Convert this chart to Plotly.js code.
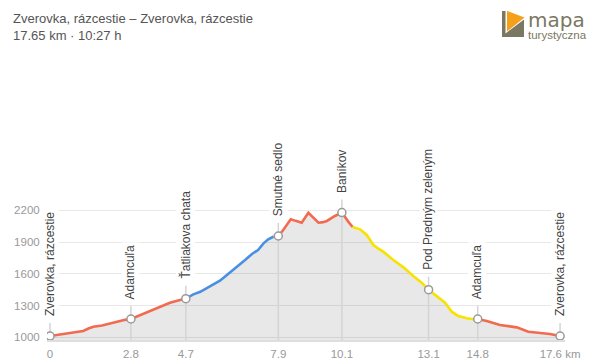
<!DOCTYPE html>
<html>
<head>
<meta charset="utf-8">
<script src="https://cdn.plot.ly/plotly-3.0.1.min.js"></script>
<style>html,body{margin:0;padding:0;background:#fff;}#chart{width:600px;height:362px;}</style>
</head>
<body>
<div id="chart"></div>
<script>
// ---- data ----
const profileKm = [0,0.3,0.58,0.9,1.15,1.35,1.5,1.8,2.08,2.42,2.6,2.8,3.0,3.23,3.45,3.69,3.9,4.15,4.5,4.7,
  4.96,5.2,5.42,5.65,5.88,6.1,6.34,6.55,6.75,7.0,7.2,7.38,7.55,7.73,7.9,8.07,8.2,8.33,8.5,8.59,8.71,8.94,9.1,9.29,9.45,9.58,9.86,10.1,
  10.32,10.47,10.73,10.96,11.19,11.35,11.53,11.88,12.23,12.57,12.86,13.1,13.38,13.67,13.9,14.13,14.42,14.65,14.8,
  15.11,15.57,16.15,16.55,16.96,17.3,17.65];
const profileElev = [1012,1025,1038,1045,1060,1085,1100,1112,1132,1157,1165,1173,1195,1220,1245,1274,1300,1327,1352,1365,
  1406,1430,1463,1495,1535,1585,1636,1685,1730,1790,1825,1885,1925,1950,1957,2014,2070,2115,2100,2093,2083,2177,2130,2083,2088,2099,2146,2178,
  2093,2042,2020,1967,1872,1840,1809,1730,1661,1579,1516,1450,1390,1327,1242,1201,1180,1170,1173,
  1154,1116,1094,1053,1043,1031,1012];
const segStart = [0, 4.7, 7.73, 10.47, 14.8];
const segEnd   = [4.7, 7.73, 10.47, 14.8, 17.65];
const segColor = ['#f26a4f', '#4a90e2', '#f26a4f', '#f7e200', '#f26a4f'];
const wpKm   = [0, 2.8, 4.7, 7.9, 10.1, 13.1, 14.8, 17.65];
const wpElev = [1012, 1173, 1365, 1957, 2178, 1450, 1173, 1012];
const wpName = ['Zverovka, rázcestie','Adamcuľa','Ťatliakova chata','Smutné sedlo','Baníkov','Pod Predným zeleným','Adamcuľa','Zverovka, rázcestie'];
const yTicks = [1000, 1300, 1600, 1900, 2200];
const titleLine1 = 'Zverovka, rázcestie – Zverovka, rázcestie';
const titleLine2 = '17.65 km · 10:27 h';
const logoLine1 = 'mapa';
const logoLine2 = 'turystyczna';

// ---- layout geometry ----
const W = 600, H = 362;
const M = {l: 47, r: 35, t: 120, b: 22};
const plotW = W - M.l - M.r, plotH = H - M.t - M.b;
const xRange = [-0.104, 17.82];
const yRange = [974.5, 3053];
const dyPerPx = (yRange[1] - yRange[0]) / plotH;
const px2x = px => (px - M.l) / plotW;
const py2y = py => (H - M.b - py) / plotH;

const traces = [];
traces.push({x: profileKm, y: profileElev, type: 'scatter', mode: 'lines', fill: 'tozeroy',
  fillcolor: 'rgba(0,0,0,0.09)', line: {width: 0}, hoverinfo: 'skip', showlegend: false});

const vx = [], vy = [];
wpKm.forEach((k, i) => { vx.push(k, k, null); vy.push(yRange[0], wpElev[i] + 13 * dyPerPx, null); });
traces.push({x: vx, y: vy, type: 'scatter', mode: 'lines', line: {color: '#d4d4d4', width: 1.5},
  hoverinfo: 'skip', showlegend: false});

segStart.forEach((s, i) => {
  const xs = [], ys = [];
  profileKm.forEach((k, j) => { if (k >= s - 1e-9 && k <= segEnd[i] + 1e-9) { xs.push(k); ys.push(profileElev[j]); } });
  traces.push({x: xs, y: ys, type: 'scatter', mode: 'lines', line: {color: segColor[i], width: 2.6},
    hoverinfo: 'skip', showlegend: false});
});

traces.push({x: wpKm, y: wpElev, type: 'scatter', mode: 'markers',
  marker: {size: 8, color: '#ffffff', line: {color: '#9a9a9a', width: 1.5}}, hoverinfo: 'skip', showlegend: false});

const annotations = wpKm.map((k, i) => ({
  x: k, y: wpElev[i], xref: 'x', yref: 'y', text: wpName[i], showarrow: false,
  textangle: -90, xanchor: 'center', yanchor: 'bottom', yshift: 18,
  bgcolor: '#ffffff', borderpad: 2, borderwidth: 0,
  font: {family: 'Liberation Sans, Arial, sans-serif', size: 12, color: '#444'}
}));
// logo text (one block, two sizes)
annotations.push({xref: 'paper', yref: 'paper', x: px2x(526), y: py2y(24), xanchor: 'left', yanchor: 'middle',
  align: 'left', showarrow: false,
  text: '<span style="font-family:DejaVu Sans;font-size:20px">' + logoLine1 + '</span><br>' +
        '<span style="font-size:11.5px">' + logoLine2 + '</span>',
  font: {family: 'Liberation Sans, Arial, sans-serif', size: 9, color: '#7a7762'}});

const P = (px, py) => px2x(px).toFixed(5) + ',' + py2y(py).toFixed(5);
const shapes = [
  {type: 'path', xref: 'paper', yref: 'paper', layer: 'above', line: {width: 0}, fillcolor: '#7a7762',
   path: 'M' + P(502, 11) + ' L' + P(505.5, 11) + ' L' + P(505.5, 33.5) + ' L' + P(524, 19.5) + ' L' + P(524, 37) + ' L' + P(502, 37) + ' Z'},
  {type: 'path', xref: 'paper', yref: 'paper', layer: 'above', line: {width: 0}, fillcolor: '#f5a01a',
   path: 'M' + P(507, 11) + ' L' + P(524.5, 17.5) + ' L' + P(507, 31.5) + ' Z'}
];

const layout = {
  width: W, height: H, margin: M, paper_bgcolor: '#fff', plot_bgcolor: '#fff',
  font: {family: 'Liberation Sans, Arial, sans-serif', color: '#999'},
  title: {text: titleLine1 + '<br>' + titleLine2, xref: 'container', yref: 'container',
    x: 13 / W, xanchor: 'left', y: 1 - 23 / H, yanchor: 'top',
    font: {family: 'Liberation Sans, Arial, sans-serif', size: 13, color: '#555'}},
  xaxis: {range: xRange, tickvals: wpKm,
    ticktext: wpKm.map((k, i) => k.toFixed(1).replace(/\.0$/, '') + (i === wpKm.length - 1 ? ' km' : '')),
    showgrid: false, zeroline: false, showline: true, linecolor: '#dedede', linewidth: 2,
    ticks: 'outside', ticklen: 2, tickcolor: 'rgba(0,0,0,0)', tickfont: {size: 11.5, color: '#999'}, fixedrange: true},
  yaxis: {range: yRange, tickvals: yTicks, showgrid: true, gridcolor: '#e8e8e8', gridwidth: 1,
    zeroline: false, showline: false, ticks: 'outside', ticklen: 4, tickcolor: 'rgba(0,0,0,0)',
    tickfont: {size: 11.5, color: '#999'}, fixedrange: true},
  annotations: annotations, shapes: shapes, showlegend: false
};

Plotly.newPlot('chart', traces, layout, {displayModeBar: false, staticPlot: true});
</script>
</body>
</html>
